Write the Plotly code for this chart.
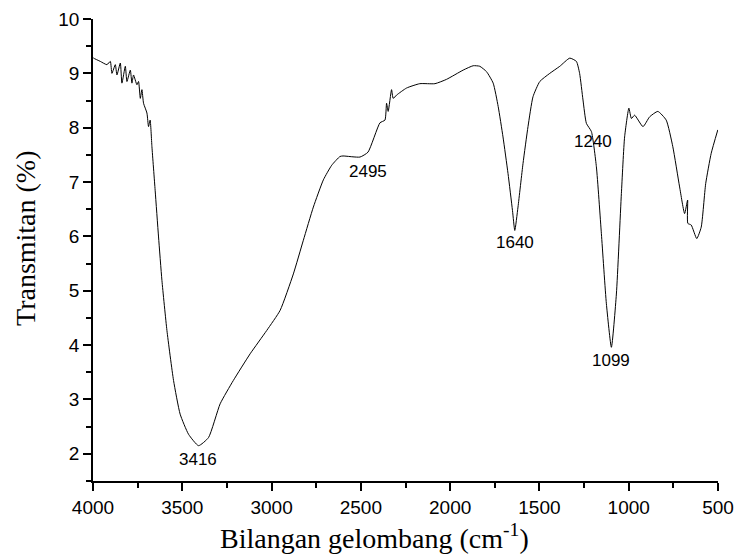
import plotly.graph_objects as go

wavenumber = [4000, 3997, 3959, 3922, 3903, 3894, 3875, 3866, 3847, 3838, 3819, 3810, 3791, 3782,
              3773, 3754, 3745, 3735, 3726, 3717, 3698, 3689, 3680, 3670, 3652, 3633, 3614, 3586,
              3549, 3512, 3465, 3409, 3353, 3288, 3214, 3120, 3027, 2952, 2878, 2822, 2766, 2710,
              2663, 2617, 2600, 2505, 2460, 2393, 2365, 2356, 2347, 2328, 2319, 2300, 2244, 2170,
              2085, 2020, 1927, 1871, 1834, 1796, 1759, 1731, 1704, 1676, 1651, 1638, 1620, 1592,
              1564, 1536, 1498, 1442, 1386, 1330, 1293, 1275, 1256, 1237, 1209, 1181, 1153, 1125,
              1097, 1069, 1041, 1023, 999, 985, 967, 920, 883, 837, 790, 753, 715, 687, 670, 669,
              650, 619, 594, 569, 538, 501]
transmitan = [9.29, 9.28, 9.22, 9.16, 9.22, 9.00, 9.16, 8.97, 9.19, 8.82, 9.13, 8.85, 9.06, 8.82,
              8.97, 8.79, 8.85, 8.54, 8.70, 8.45, 8.27, 8.02, 8.14, 7.65, 6.85, 5.99, 5.19, 4.27,
              3.35, 2.73, 2.36, 2.15, 2.30, 2.92, 3.35, 3.84, 4.27, 4.64, 5.31, 5.93, 6.54, 7.04,
              7.31, 7.47, 7.48, 7.46, 7.55, 8.09, 8.14, 8.45, 8.30, 8.70, 8.54, 8.60, 8.73, 8.81,
              8.81, 8.89, 9.06, 9.14, 9.13, 9.03, 8.82, 8.39, 7.83, 7.16, 6.48, 6.11, 6.54, 7.34,
              8.02, 8.57, 8.85, 9.00, 9.13, 9.28, 9.22, 9.00, 8.51, 8.08, 7.93, 7.28, 6.05, 4.76,
              3.96, 4.94, 6.79, 7.83, 8.36, 8.17, 8.23, 8.02, 8.20, 8.30, 8.14, 7.65, 6.91, 6.42,
              6.67, 6.24, 6.21, 5.96, 6.17, 6.97, 7.53, 7.96]

peak_labels = ["3416", "2495", "1640", "1240", "1099"]
peak_x = [3411, 2460, 1638, 1202, 1101]
peak_y = [1.89, 7.20, 5.89, 7.74, 3.71]

x_title = "Bilangan gelombang (cm<sup>-1</sup>)"
y_title = "Transmitan (%)"

sans = "Liberation Sans, Arial"
serif = "Liberation Serif, Times New Roman"

fig = go.Figure()
fig.add_trace(go.Scatter(x=wavenumber, y=transmitan, mode="lines",
                         line=dict(color="black", width=1, shape="spline", smoothing=0.5),
                         showlegend=False))

for t, xv, yv in zip(peak_labels, peak_x, peak_y):
    fig.add_annotation(x=xv, y=yv, text=t, showarrow=False, xref="x", yref="y",
                       font=dict(family=sans, size=17, color="black"))

fig.add_annotation(x=0.4496, y=0, xref="paper", yref="paper", yshift=-55, yanchor="middle",
                   text=x_title, showarrow=False,
                   font=dict(family=serif, size=28, color="black"))
fig.add_annotation(x=0, y=0.526, xref="paper", yref="paper", xshift=-67, xanchor="center",
                   text=y_title, showarrow=False, textangle=-90,
                   font=dict(family=serif, size=28, color="black"))

axis_common = dict(showline=True, linecolor="black", linewidth=1.5, ticks="outside",
                   tickcolor="black", tickwidth=1.5, ticklen=8, showgrid=False, zeroline=False,
                   tickfont=dict(family=sans, size=19, color="black"),
                   mirror=False, automargin=False)

fig.update_xaxes(range=[4000, 500], dtick=500, tick0=0,
                 minor=dict(dtick=250, ticklen=5, tickwidth=1.5, tickcolor="black", ticks="outside"),
                 **axis_common)
fig.update_yaxes(range=[1.5, 10], dtick=1, tick0=0,
                 minor=dict(dtick=0.5, ticklen=5, tickwidth=1.5, tickcolor="black", ticks="outside"),
                 **axis_common)

fig.update_layout(width=736, height=558, margin=dict(l=93, r=18, t=19, b=77),
                  plot_bgcolor="white", paper_bgcolor="white")

fig.write_html("out.html")
